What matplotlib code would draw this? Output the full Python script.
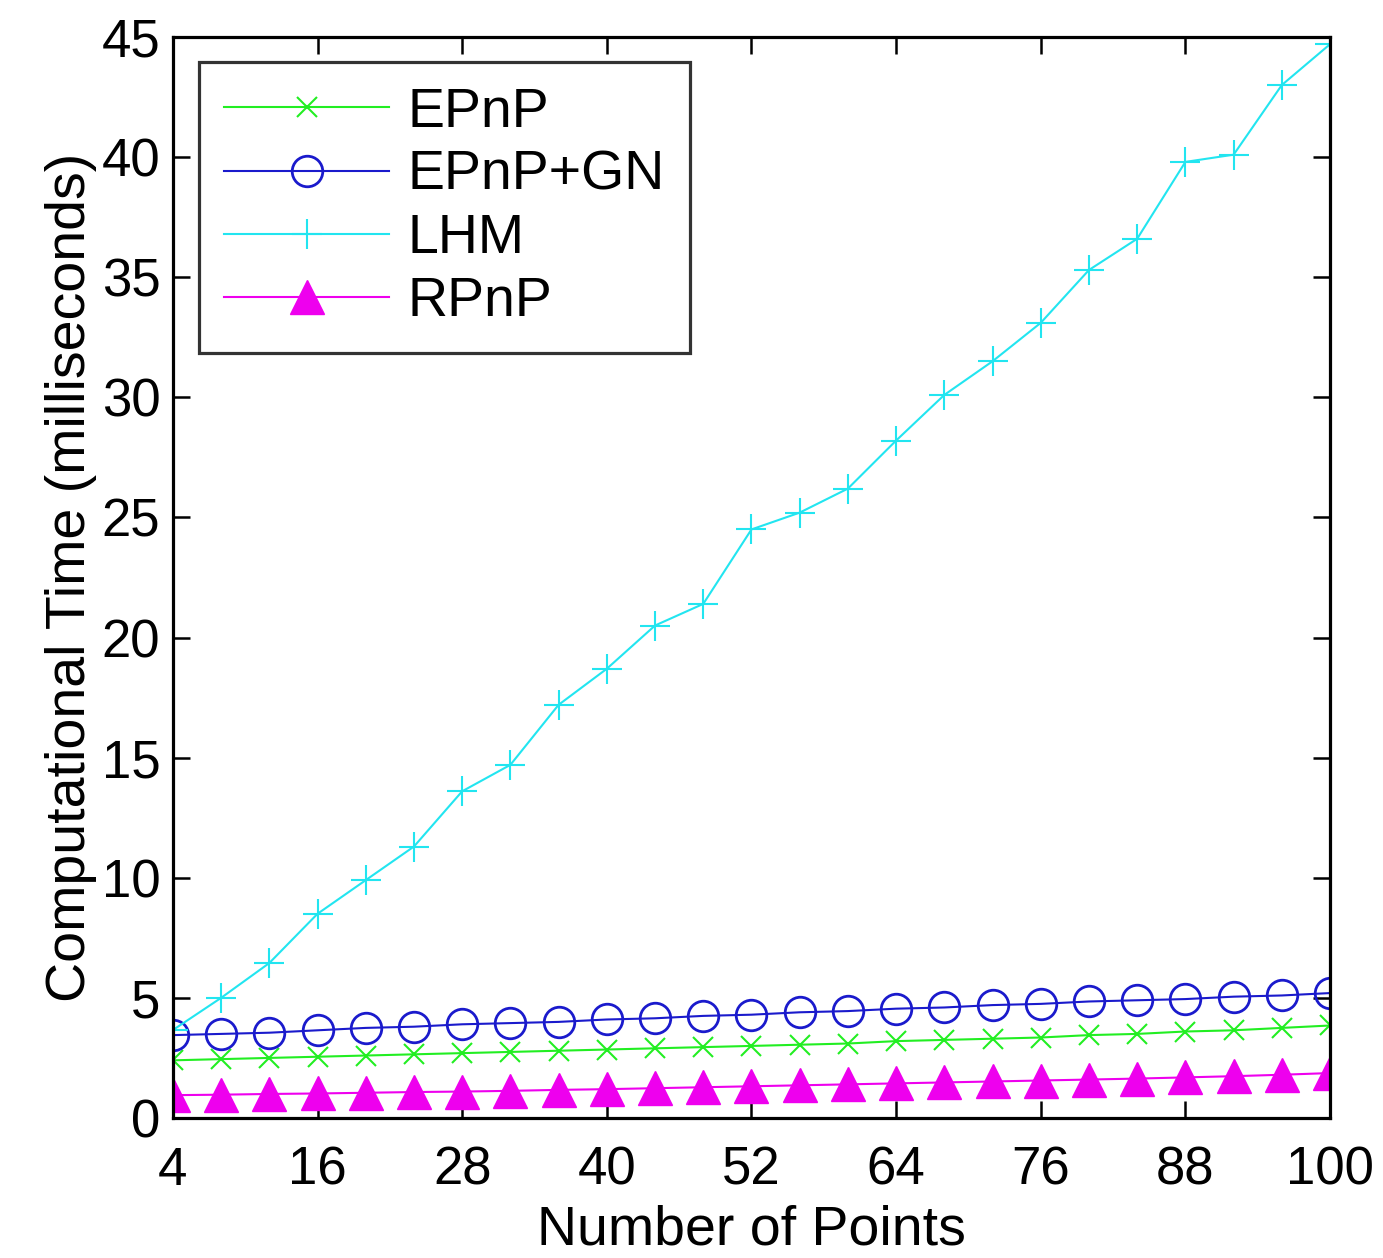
import numpy as np
import matplotlib
matplotlib.use('Agg')
import matplotlib.pyplot as plt

plt.rcParams['font.family'] = ['Liberation Sans', 'DejaVu Sans']

npoints = [4, 8, 12, 16, 20, 24, 28, 32, 36, 40, 44, 48, 52, 56, 60, 64, 68, 72, 76, 80, 84, 88, 92, 96, 100]

epnp = [2.4, 2.45, 2.5, 2.55, 2.6, 2.65, 2.7, 2.75, 2.8, 2.85, 2.9, 2.95, 3.0, 3.05, 3.1, 3.2, 3.25, 3.3,
        3.35, 3.45, 3.5, 3.6, 3.65, 3.75, 3.85]
epnp_gn = [3.45, 3.5, 3.55, 3.65, 3.75, 3.8, 3.9, 3.95, 4.0, 4.1, 4.15, 4.25, 4.3, 4.4, 4.45, 4.55, 4.6,
           4.7, 4.75, 4.85, 4.9, 4.95, 5.05, 5.1, 5.2]
lhm = [3.66, 5.0, 6.45, 8.5, 9.9, 11.3, 13.6, 14.7, 17.2, 18.7, 20.5, 21.4, 24.5, 25.2, 26.2, 28.2, 30.1,
       31.5, 33.1, 35.3, 36.6, 39.8, 40.1, 43.0, 44.7]
rpnp = [0.95, 0.97, 1.0, 1.02, 1.05, 1.08, 1.1, 1.13, 1.17, 1.2, 1.24, 1.28, 1.32, 1.36, 1.4, 1.44, 1.48,
        1.52, 1.56, 1.6, 1.64, 1.69, 1.74, 1.8, 1.87]

xticks = [4, 16, 28, 40, 52, 64, 76, 88, 100]
yticks = [0, 5, 10, 15, 20, 25, 30, 35, 40, 45]

fig = plt.figure(figsize=(13.83, 12.58), dpi=100)
ax = fig.add_axes([0.125, 0.1113, 0.8367, 0.8593])

lw = 1.5
ax.plot(npoints, epnp, color='#22ee22', marker='x', ms=14, mew=1.5, lw=lw, label='EPnP')
ax.plot(npoints, epnp_gn, color='#1a1acc', marker='o', ms=22, mfc='none', mew=2.0, lw=lw, label='EPnP+GN')
ax.plot(npoints, lhm, color='#22e5f0', marker='+', ms=22, mew=1.5, lw=lw, label='LHM')
ax.plot(npoints, rpnp, color='#ee00ee', marker='^', ms=24, lw=lw, label='RPnP')

ax.set_xlim(4, 100)
ax.set_ylim(0, 45)
ax.set_xticks(xticks)
ax.set_yticks(yticks)
ax.tick_params(direction='in', length=12, width=1.8, labelsize=38, top=True, right=True)
ax.tick_params(axis='x', pad=20)
ax.tick_params(axis='y', pad=9)
for s in ax.spines.values():
    s.set_linewidth(2.3)

ax.set_xlabel('Number of Points', fontsize=40, labelpad=6)
ax.set_ylabel('Computational Time (milliseconds)', fontsize=40, labelpad=3)

leg = ax.legend(loc='upper left', fontsize=40, handlelength=2.97, labelspacing=0.2,
                borderpad=0.45, handletextpad=0.32, fancybox=False, edgecolor='black',
                bbox_to_anchor=(0.023, 0.977), borderaxespad=0.0)
leg.get_frame().set_linewidth(2.3)

fig.savefig('out.png', dpi=100)
